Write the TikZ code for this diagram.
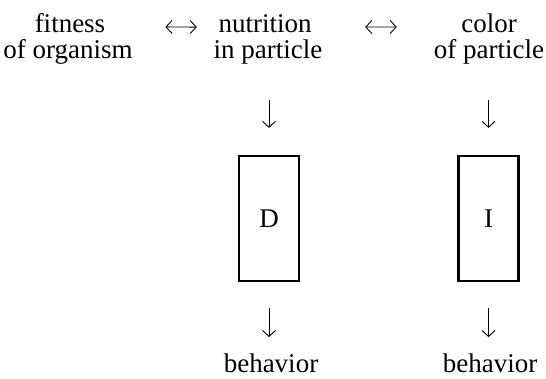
\documentclass[tikz,border=0pt]{standalone}
\usepackage{fontspec}
\setmainfont{Liberation Serif}
\usetikzlibrary{arrows.meta}
\begin{document}
\begin{tikzpicture}[x=1pt,y=-1pt,
  lbl/.style={inner sep=0pt,anchor=base,font=\fontsize{27}{27}\selectfont},
  boxnode/.style={draw,line width=2.2pt,minimum width=60pt,minimum height=125pt,inner sep=0pt,font=\fontsize{27}{27}\selectfont},
  conn/.style={line width=0.9pt,-{Straight Barb[length=6pt,width=13pt]}},
  conn2/.style={line width=0.9pt,{Straight Barb[length=6pt,width=13pt]}-{Straight Barb[length=6pt,width=13pt]}}]
\useasboundingbox (0,0) rectangle (546,378);
\node[lbl] (fit1) at (70,32) {fitness};
\node[lbl] (fit2) at (68,58) {of organism};
\node[lbl] (nut1) at (265,32) {nutrition};
\node[lbl] (nut2) at (268,58) {in particle};
\node[lbl] (col1) at (489,32) {color};
\node[lbl] (col2) at (489,58) {of particle};
\node[boxnode] (D) at (269,218.5) {\raisebox{-3pt}{D}};
\node[boxnode] (I) at (488.5,218.5) {\raisebox{-3pt}{I}};
\node[lbl] (beh1) at (271,372) {behavior};
\node[lbl] (beh2) at (490,372) {behavior};
% horizontal double arrows
\draw[conn2, shorten <=60pt, shorten >=21.5pt] ([yshift=-4pt]fit1.east) -- ([yshift=-4pt]nut1.west);
\draw[conn2, shorten <=53.5pt, shorten >=64.3pt] ([yshift=-4pt]nut1.east) -- ([yshift=-4pt]col1.west);
% vertical arrows
\draw[conn, shorten <=36pt, shorten >=27pt] (nut2.south -| D.north) -- (D.north);
\draw[conn, shorten <=36pt, shorten >=27pt] (col2.south -| I.north) -- (I.north);
\draw[conn, shorten <=26pt, shorten >=16pt] (D.south) -- (D.south |- beh1.north);
\draw[conn, shorten <=26pt, shorten >=16pt] (I.south) -- (I.south |- beh2.north);
\end{tikzpicture}
\end{document}
